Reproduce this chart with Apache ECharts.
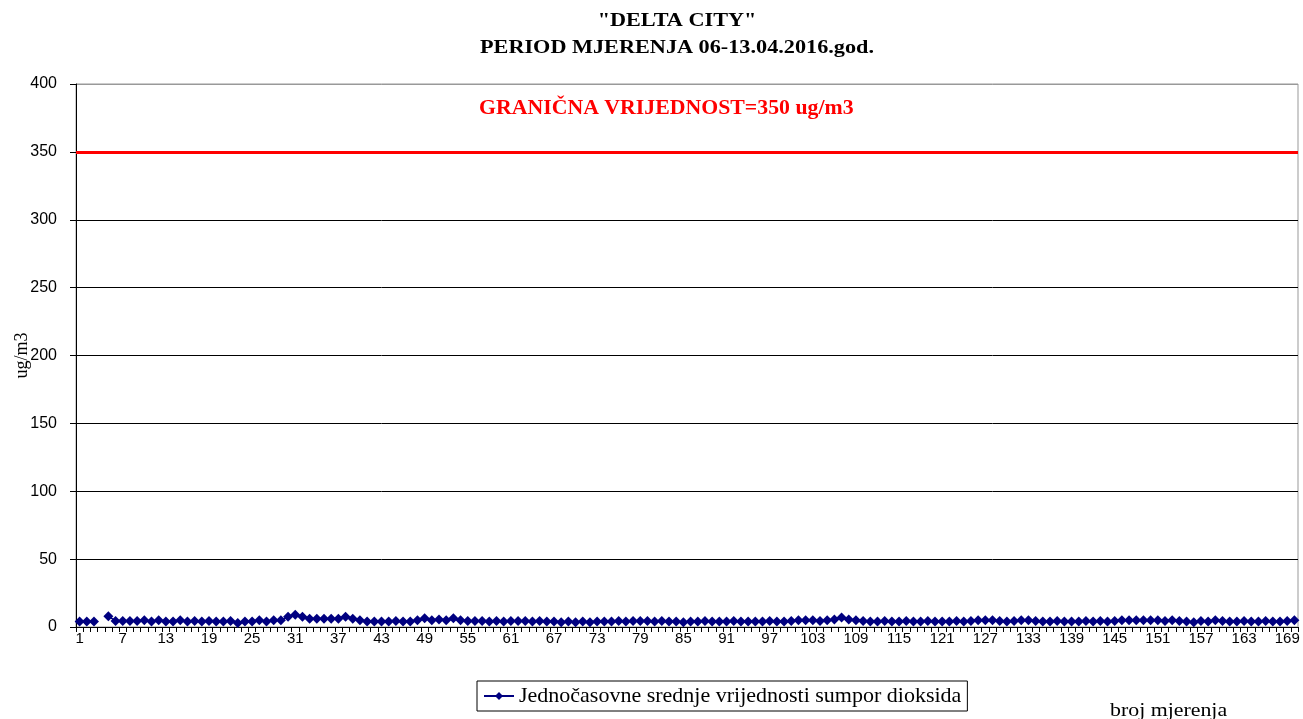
<!DOCTYPE html>
<html>
<head>
<meta charset="utf-8">
<style>
  html, body { margin: 0; padding: 0; background: #fff; }
  #chart { width: 1303px; height: 719px; }
</style>
<script src="https://cdn.jsdelivr.net/npm/echarts@6/dist/echarts.min.js"></script>
</head>
<body>
<div id="chart"></div>
<script>
// redni broj mjerenja 1..170
var mjerenja = []
for (var i = 1; i <= 170; i++) mjerenja.push(String(i))

// jednočasovne srednje vrijednosti SO2 (ug/m3), očitano sa grafika
var so2 = [
  4, 4, 4, null, 8, 4.5, 4.5, 4.5, 4.5, 5,
  4, 5, 4, 4, 5, 4, 4.5, 4, 4.5, 4,
  4, 4.5, 3, 4, 4, 5, 4, 5, 5, 7.5,
  9, 7.5, 6, 6, 6, 6, 6, 7.5, 6, 5,
  4, 4, 4, 4, 4.5, 4, 4, 5, 6.5, 5,
  5.5, 5, 6.5, 5, 4.5, 4.5, 4.5, 4, 4.5, 4,
  4.5, 4.5, 4.5, 4, 4.5, 4, 4, 3.5, 4, 3.5,
  4, 3.5, 4, 4, 4, 4.5, 4, 4.5, 4.5, 4.5,
  4, 4.5, 4, 4, 3.5, 4, 4, 4.5, 4, 4,
  4, 4.5, 4, 4, 4, 4, 4.5, 4, 4, 4.5,
  5, 5, 5, 4.5, 5, 5.5, 7, 5.5, 5, 4.5,
  4, 4, 4.5, 4, 4, 4.5, 4, 4, 4.5, 4,
  4, 4, 4.5, 4, 4.5, 5, 5, 5, 4.5, 4,
  4.5, 5, 5, 4.5, 4, 4, 4.5, 4, 4, 4,
  4.5, 4, 4.5, 4, 4.5, 5, 5, 5, 5, 5,
  5, 4.5, 5, 4.5, 4, 3.5, 4.5, 4, 5, 4.5,
  4, 4, 4.5, 4, 4, 4.5, 4, 4, 4.5, 5
]

var granica = 350

var serif = 'Liberation Serif'
var sans = 'Liberation Sans'

var myChart = echarts.init(document.getElementById('chart'))
myChart.setOption({
  animation: false,
  grid: {
    left: 76,
    right: 5,
    top: 84,
    bottom: 92,
    outerBoundsMode: 'none',
    show: true,
    borderColor: '#999',
    borderWidth: 1,
  },
  legend: {
    left: 477,
    top: 681,
    padding: [4, 6, 4, 6],
    borderColor: '#000',
    borderWidth: 1,
    itemWidth: 30,
    itemHeight: 10,
    itemGap: 4,
    data: ['Jednočasovne srednje vrijednosti sumpor dioksida'],
    textStyle: { fontFamily: serif, fontSize: 22, color: '#000' },
  },
  // naslov i tekstovi, malo rastegnuti kao u originalu
  graphic: [
    {
      type: 'text',
      x: 677,
      y: 21,
      scaleX: 1.17,
      style: {
        text: '"DELTA CITY"',
        font: 'bold 19px "Liberation Serif"',
        fill: '#000',
        align: 'center',
        verticalAlign: 'middle',
      },
    },
    {
      type: 'text',
      x: 677,
      y: 48,
      scaleX: 1.17,
      style: {
        text: 'PERIOD MJERENJA 06-13.04.2016.god.',
        font: 'bold 19px "Liberation Serif"',
        fill: '#000',
        align: 'center',
        verticalAlign: 'middle',
      },
    },
    {
      type: 'text',
      x: 479,
      y: 109,
      scaleX: 1.09,
      style: {
        text: 'GRANIČNA VRIJEDNOST=350 ug/m3',
        font: 'bold 20px "Liberation Serif"',
        fill: '#ff0000',
        align: 'left',
        verticalAlign: 'middle',
      },
    },
    {
      type: 'text',
      x: 1110,
      y: 711,
      scaleX: 1.15,
      style: {
        text: 'broj mjerenja',
        font: '19px "Liberation Serif"',
        fill: '#000',
        align: 'left',
        verticalAlign: 'middle',
      },
    },
  ],
  xAxis: {
    type: 'category',
    data: mjerenja,
    boundaryGap: true,
    axisLine: { lineStyle: { color: '#000', width: 1 } },
    axisTick: { show: true, interval: 0, length: 5, lineStyle: { color: '#000' } },
    axisLabel: {
      interval: 5,
      margin: 4,
      fontFamily: sans,
      fontSize: 15,
      color: '#000',
    },
    splitLine: { show: false },
  },
  yAxis: {
    type: 'value',
    min: 0,
    max: 400,
    interval: 50,
    name: 'ug/m3',
    nameLocation: 'middle',
    nameGap: 45,
    nameMoveOverlap: false,
    nameTextStyle: { fontFamily: serif, fontSize: 18, color: '#000' },
    axisLine: { show: true, lineStyle: { color: '#000' } },
    axisTick: { show: true, length: 6, lineStyle: { color: '#000' } },
    axisLabel: { fontFamily: sans, fontSize: 16, color: '#000', margin: 19 },
    splitLine: {
      show: true,
      lineStyle: {
        color: ['#000', '#000', '#000', '#000', '#000', '#000', '#000', '#000', '#999'],
        width: 1,
      },
    },
  },
  series: [
    {
      name: 'Jednočasovne srednje vrijednosti sumpor dioksida',
      type: 'line',
      data: so2,
      connectNulls: false,
      showAllSymbol: true,
      symbol: 'diamond',
      symbolSize: 10,
      itemStyle: { color: '#000080' },
      lineStyle: { color: '#000080', width: 1.5 },
      markLine: {
        silent: true,
        symbol: 'none',
        label: { show: false },
        lineStyle: { color: '#ff0000', width: 3, type: 'solid' },
        data: [{ yAxis: granica }],
      },
    },
  ],
})
</script>
</body>
</html>
